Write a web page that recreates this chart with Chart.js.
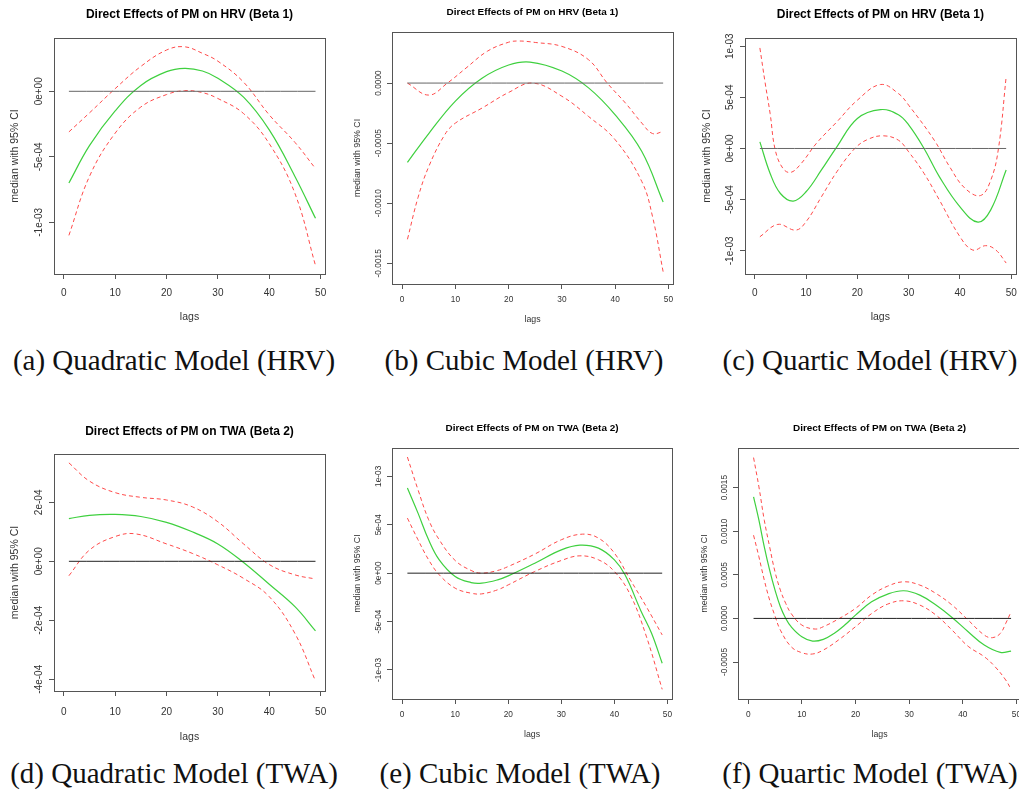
<!DOCTYPE html>
<html lang="en">
<head>
<meta charset="utf-8">
<title>Direct Effects of PM</title>
<script src="https://cdn.jsdelivr.net/npm/chart.js@4.4.1/dist/chart.umd.min.js"></script>
<style>
  body { margin: 0; width: 1019px; height: 793px; overflow: hidden; background: #fff; position: relative; }
  canvas { position: absolute; }
  .legenda {
    position: absolute; font-family: 'Liberation Serif', 'Times New Roman', serif;
    font-size: 29px; line-height: 1; color: #111; white-space: nowrap; transform: translateX(-50%);
  }
</style>
</head>
<body>
<div class="legenda" style="left:174px;top:346px">(a) Quadratic Model (HRV)</div>
<div class="legenda" style="left:524px;top:346px">(b) Cubic Model (HRV)</div>
<div class="legenda" style="left:870px;top:346px">(c) Quartic Model (HRV)</div>
<div class="legenda" style="left:174px;top:759px">(d) Quadratic Model (TWA)</div>
<div class="legenda" style="left:520px;top:759px">(e) Cubic Model (TWA)</div>
<div class="legenda" style="left:870px;top:759px">(f) Quartic Model (TWA)</div>

<script>
// ======== Dados ========

const ticksX = [0, 10, 20, 30, 40, 50];
const lagsZero = [1, 49];
const valoresZero = [0, 0];

// --- (a) Quadrático HRV ---
const ticksYA = [0, -5e-4, -1e-3];
const rotulosYA = ['0e+00', '-5e-04', '-1e-03'];
const lagsA = [1, 5, 10, 15, 20, 23.5, 27, 30, 35, 40, 45, 49];
const medianaA = [-7.0e-4, -4.15e-4, -1.5e-4, 4.5e-5, 1.5e-4, 1.75e-4, 1.55e-4, 1.0e-4, -4.5e-5, -2.95e-4, -6.5e-4, -9.7e-4];
const superiorA = [-3.1e-4, -1.65e-4, 2.0e-5, 1.9e-4, 3.15e-4, 3.4e-4, 2.9e-4, 2.3e-4, 7.0e-5, -1.8e-4, -3.9e-4, -5.9e-4];
const inferiorA = [-1.1e-3, -6.5e-4, -3.2e-4, -1.2e-4, -2.5e-5, 5e-6, -1e-5, -5.5e-5, -1.7e-4, -4.0e-4, -7.8e-4, -1.33e-3];

// --- (b) Cúbico HRV ---
const ticksYB = [0, -5e-4, -1e-3, -1.5e-3];
const rotulosYB = ['0.0000', '-0.0005', '-0.0010', '-0.0015'];
const lagsMedB = [1, 5, 10, 15, 20, 24, 30, 35, 40, 45, 49];
const medianaB = [-6.6e-4, -4.2e-4, -1.5e-4, 4e-5, 1.5e-4, 1.75e-4, 1.0e-4, -4e-5, -2.65e-4, -5.7e-4, -9.9e-4];
const lagsSupB = [1, 5, 8.5, 12, 16, 20, 22, 25, 30, 35, 38.5, 42, 45, 47, 49];
const superiorB = [0, -1.0e-4, 0, 1.25e-4, 2.65e-4, 3.4e-4, 3.5e-4, 3.38e-4, 3.05e-4, 1.94e-4, 0, -1.7e-4, -3.33e-4, -4.2e-4, -4.03e-4];
const lagsInfB = [1, 3, 5, 8, 10, 15, 20, 24.5, 30, 35, 40, 45, 47, 49];
const inferiorB = [-1.3e-3, -9.5e-4, -6.95e-4, -4.3e-4, -3.33e-4, -2.08e-4, -7.8e-5, 0, -1.1e-4, -2.78e-4, -4.72e-4, -8.2e-4, -1.11e-3, -1.57e-3];

// --- (c) Quártico HRV ---
const ticksYC = [1e-3, 5e-4, 0, -5e-4, -1e-3];
const rotulosYC = ['1e-03', '5e-04', '0e+00', '-5e-04', '-1e-03'];
const lagsMedC = [1, 3, 5, 7.5, 10, 13, 16, 20, 24.5, 28, 30, 33, 36, 40, 43.5, 46, 49];
const medianaC = [6.5e-5, -2.44e-4, -4.4e-4, -5.14e-4, -4.23e-4, -2.1e-4, 1.6e-5, 2.93e-4, 3.8e-4, 3.3e-4, 2.3e-4, 0, -2.77e-4, -5.7e-4, -7.2e-4, -6.0e-4, -2.1e-4];
const lagsSupC = [1, 2, 3, 4, 5.5, 7, 9, 12, 16, 20, 24.5, 28, 30, 35, 38, 41, 44, 46, 47.5, 49];
const superiorC = [9.83e-4, 6.5e-4, 3.4e-4, -1.6e-5, -1.95e-4, -2.34e-4, -1.5e-4, 4.9e-5, 2.6e-4, 4.72e-4, 6.25e-4, 5.37e-4, 4.23e-4, 8e-5, -1.8e-4, -3.9e-4, -4.6e-4, -3.1e-4, 0, 7.0e-4];
const lagsInfC = [1, 4.5, 8, 10, 13, 16, 19.5, 22, 25, 28, 30, 33, 36, 40, 42.5, 45, 47, 49];
const inferiorC = [-8.63e-4, -7.42e-4, -7.98e-4, -7.16e-4, -4.72e-4, -2.28e-4, 0, 8.8e-5, 1.24e-4, 8.1e-5, -3.3e-5, -2.44e-4, -5.05e-4, -8.63e-4, -9.93e-4, -9.5e-4, -9.93e-4, -1.12e-3];

// --- (d) Quadrático TWA ---
const ticksYD = [2e-4, 0, -2e-4, -4e-4];
const rotulosYD = ['2e-04', '0e+00', '-2e-04', '-4e-04'];
const lagsD = [1, 5, 10, 15, 20, 25, 30, 35, 40, 45, 49];
const medianaD = [1.45e-4, 1.56e-4, 1.59e-4, 1.52e-4, 1.32e-4, 1.0e-4, 5.9e-5, -4e-6, -7.8e-5, -1.54e-4, -2.36e-4];
const superiorD = [3.34e-4, 2.72e-4, 2.33e-4, 2.17e-4, 2.08e-4, 1.85e-4, 1.34e-4, 5.9e-5, -1.1e-5, -4.6e-5, -6.0e-5];
const lagsInfD = [1, 5, 10, 14, 20, 25, 30, 35, 40, 45, 49];
const inferiorD = [-4.9e-5, 3.8e-5, 8.4e-5, 9.3e-5, 5.9e-5, 2.7e-5, -1.2e-5, -5.8e-5, -1.2e-4, -2.45e-4, -4.06e-4];

// --- (e) Cúbico TWA ---
const ticksYE = [1e-3, 5e-4, 0, -5e-4, -1e-3];
const rotulosYE = ['1e-03', '5e-04', '0e+00', '-5e-04', '-1e-03'];
const lagsMedE = [1, 3, 5, 7, 10, 13, 15, 18, 20, 25, 30, 33.5, 37, 40, 42, 45, 47, 49];
const medianaE = [8.79e-4, 6.2e-4, 3.45e-4, 1.38e-4, -3.4e-5, -9.7e-5, -1.03e-4, -6.9e-5, -2.8e-5, 1.03e-4, 2.41e-4, 2.9e-4, 2.59e-4, 1.38e-4, -1.7e-5, -3.9e-4, -6.2e-4, -9.31e-4];
const lagsSupE = [1, 3, 5, 7, 10, 13, 15, 18, 20, 25, 30, 34, 37, 40, 43, 46, 49];
const superiorE = [1.2e-3, 8.62e-4, 5.52e-4, 3.45e-4, 1.31e-4, 2.8e-5, 0, 2.8e-5, 6.9e-5, 1.97e-4, 3.45e-4, 4.03e-4, 3.62e-4, 2.07e-4, -6.9e-5, -3.45e-4, -6.38e-4];
const lagsInfE = [1, 3, 5, 7, 10, 13, 15, 18, 20, 25, 30, 33.5, 37, 40, 43, 46, 49];
const inferiorE = [5.69e-4, 3.45e-4, 1.38e-4, -1.7e-5, -1.55e-4, -2.07e-4, -2.14e-4, -1.72e-4, -1.21e-4, 1.7e-5, 1.31e-4, 1.79e-4, 1.38e-4, 1.7e-5, -2.24e-4, -6.5e-4, -1.2e-3];

// --- (f) Quártico TWA ---
const ticksYF = [1.5e-3, 1e-3, 5e-4, 0, -5e-4];
const rotulosYF = ['0.0015', '0.0010', '0.0005', '0.0000', '-0.0005'];
const lagsMedF = [1, 2, 3, 4, 5, 6, 7, 8, 10, 12, 14, 16, 18, 20, 23, 26, 29, 32, 35, 38, 41, 44, 47, 49];
const medianaF = [1.393e-3, 1.126e-3, 8.2e-4, 5.53e-4, 3.24e-4, 1.34e-4, 0, -9.5e-5, -2.1e-4, -2.6e-4, -2.4e-4, -1.72e-4, -7.6e-5, 3.8e-5, 1.9e-4, 2.79e-4, 3.17e-4, 2.67e-4, 1.53e-4, 1.1e-5, -1.53e-4, -3.05e-4, -3.89e-4, -3.74e-4];
const lagsSupF = [1, 2, 3, 4, 5, 6, 7, 8, 10, 12.5, 14, 17, 20, 23, 26, 29, 32, 35, 38, 41, 44, 45.5, 47, 48, 49];
const superiorF = [1.844e-3, 1.508e-3, 1.126e-3, 8.2e-4, 5.34e-4, 3.24e-4, 1.72e-4, 5.7e-5, -7.6e-5, -1.22e-4, -9.5e-5, 0, 1.15e-4, 2.67e-4, 3.7e-4, 4.2e-4, 3.82e-4, 2.86e-4, 1.53e-4, -1.9e-5, -1.91e-4, -2.21e-4, -1.72e-4, -5.7e-5, 7.6e-5];
const lagsInfF = [1, 2, 3, 4, 5, 6, 8, 10, 12, 14, 17, 20, 23, 26, 29, 32, 35, 38, 41, 44, 46, 48, 49];
const inferiorF = [9.54e-4, 7.06e-4, 4.39e-4, 2.1e-4, 2.7e-5, -1.34e-4, -3.24e-4, -3.93e-4, -4.08e-4, -3.63e-4, -2.4e-4, -9.5e-5, 5.5e-5, 1.64e-4, 2.02e-4, 1.53e-4, 3.8e-5, -1.34e-4, -3.2e-4, -4.39e-4, -5.53e-4, -7.06e-4, -8.13e-4];

// ======== Layout de cada painel (posições em pixels da página) ========
const FONTE = "'Liberation Sans', Arial, sans-serif";

const paineis = [
  { titulo: 'Direct Effects of PM on HRV (Beta 1)', cx: 0, cy: 0, cw: 340, ch: 330,
    caixa: { l: 54, t: 38, r: 325, b: 274 }, tituloY: 15, yTituloX: 15, xTituloY: 317, offY: 15, offX: 19,
    base: 10, eixo: 10.5, corZero: '#666', yMin: -1.395e-3, yMax: 4.07e-4, ticksY: ticksYA, rotulosY: rotulosYA,
    mediana: [lagsA, medianaA], superior: [lagsA, superiorA], inferior: [lagsA, inferiorA] },
  { titulo: 'Direct Effects of PM on HRV (Beta 1)', cx: 340, cy: 0, cw: 340, ch: 330,
    caixa: { l: 392, t: 32, r: 673, b: 284 }, tituloY: 12.5, yTituloX: 358, xTituloY: 320, offY: 13.5, offX: 16,
    base: 8.3, eixo: 8.8, corZero: '#666', yMin: -1.672e-3, yMax: 4.25e-4, ticksY: ticksYB, rotulosY: rotulosYB,
    mediana: [lagsMedB, medianaB], superior: [lagsSupB, superiorB], inferior: [lagsInfB, inferiorB] },
  { titulo: 'Direct Effects of PM on HRV (Beta 1)', cx: 680, cy: 0, cw: 345, ch: 330,
    caixa: { l: 745, t: 38, r: 1017, b: 274 }, tituloY: 15, yTituloX: 707, xTituloY: 317, offY: 15, offX: 19,
    base: 10, eixo: 10.5, corZero: '#666', yMin: -1.227e-3, yMax: 1.08e-3, ticksY: ticksYC, rotulosY: rotulosYC,
    mediana: [lagsMedC, medianaC], superior: [lagsSupC, superiorC], inferior: [lagsInfC, inferiorC] },
  { titulo: 'Direct Effects of PM on TWA (Beta 2)', cx: 0, cy: 400, cw: 340, ch: 345,
    caixa: { l: 54, t: 454, r: 325, b: 691 }, tituloY: 432, yTituloX: 15, xTituloY: 737, offY: 15, offX: 21,
    base: 10, eixo: 10.5, corZero: '#222', yMin: -4.4e-4, yMax: 3.64e-4, ticksY: ticksYD, rotulosY: rotulosYD,
    mediana: [lagsD, medianaD], superior: [lagsD, superiorD], inferior: [lagsInfD, inferiorD] },
  { titulo: 'Direct Effects of PM on TWA (Beta 2)', cx: 340, cy: 400, cw: 340, ch: 345,
    caixa: { l: 392, t: 448, r: 672, b: 699 }, tituloY: 428.5, yTituloX: 358, xTituloY: 735, offY: 13.5, offX: 16,
    base: 8.3, eixo: 8.8, corZero: '#222', yMin: -1.3e-3, yMax: 1.293e-3, ticksY: ticksYE, rotulosY: rotulosYE,
    mediana: [lagsMedE, medianaE], superior: [lagsSupE, superiorE], inferior: [lagsInfE, inferiorE] },
  { titulo: 'Direct Effects of PM on TWA (Beta 2)', cx: 680, cy: 400, cw: 350, ch: 345,
    caixa: { l: 738, t: 448, r: 1021, b: 699 }, tituloY: 428.5, yTituloX: 705, xTituloY: 735, offY: 13.5, offX: 16,
    base: 8.3, eixo: 8.8, corZero: '#222', yMin: -9.24e-4, yMax: 1.954e-3, ticksY: ticksYF, rotulosY: rotulosYF,
    mediana: [lagsMedF, medianaF], superior: [lagsSupF, superiorF], inferior: [lagsInfF, inferiorF] },
];

// ======== Função auxiliar: mede a largura dos rótulos (para centrar os rótulos girados) ========
const ctxMedida = document.createElement('canvas').getContext('2d');
function maiorLargura(rotulos, tamanho) {
  ctxMedida.font = `${tamanho}px ${FONTE}`;
  return Math.max(...rotulos.map((r) => ctxMedida.measureText(r).width));
}

function pontos([lags, valores]) {
  return lags.map((x, i) => ({ x, y: valores[i] }));
}

// Desenha a moldura completa em volta da área do gráfico (estilo R)
const moldura = {
  id: 'moldura',
  afterDraw(chart) {
    const a = chart.chartArea;
    const ctx = chart.ctx;
    ctx.save();
    ctx.strokeStyle = '#555';
    ctx.lineWidth = 1;
    ctx.strokeRect(Math.round(a.left) + 0.5, Math.round(a.top) + 0.5,
      Math.round(a.right - a.left), Math.round(a.bottom - a.top));
    ctx.restore();
  },
};

// ======== Cria cada painel ========
function criarPainel(p) {
  const canvas = document.createElement('canvas');
  canvas.width = p.cw;
  canvas.height = p.ch;
  canvas.style.left = p.cx + 'px';
  canvas.style.top = p.cy + 'px';
  canvas.style.width = p.cw + 'px';
  canvas.style.height = p.ch + 'px';
  document.body.appendChild(canvas);

  const tamTitulo = p.base * 1.2;
  const lhTitulo = tamTitulo * 1.2;
  const lhEixo = p.eixo * 1.2;
  const lhTick = p.base * 1.2;
  const tl = 5;

  // Espaços calculados a partir da caixa do gráfico
  const padEsq = (p.yTituloX - p.cx) - lhEixo / 2;
  const larguraY = (p.caixa.l - p.cx) - padEsq;
  const padBaixo = (p.cy + p.ch) - p.xTituloY - lhEixo / 2;
  const alturaX = (p.cy + p.ch - padBaixo) - p.caixa.b;
  const padDir = (p.cx + p.cw) - p.caixa.r;
  const tituloTopo = (p.tituloY - p.cy) - lhTitulo / 2;
  const tituloBaixo = (p.caixa.t - p.cy) - tituloTopo - lhTitulo;
  const padTickY = p.offY - tl - maiorLargura(p.rotulosY, p.base) / 2;
  const padTickX = p.offX - tl - lhTick / 2;

  const tracejado = { borderColor: '#ff4a4a', borderWidth: 1, borderDash: [4, 3] };

  new Chart(canvas.getContext('2d'), {
    type: 'line',
    data: {
      datasets: [
        { data: pontos([lagsZero, valoresZero]), borderColor: p.corZero, borderWidth: 1 },
        { data: pontos(p.superior), ...tracejado },
        { data: pontos(p.inferior), ...tracejado },
        { data: pontos(p.mediana), borderColor: '#3fd03f', borderWidth: 1.2 },
      ],
    },
    options: {
      responsive: false,
      animation: false,
      devicePixelRatio: 1,
      events: [],
      elements: {
        point: { radius: 0 },
        line: { tension: 0.4, fill: false },
      },
      layout: {
        autoPadding: false,
        padding: { left: padEsq, right: padDir, top: 0, bottom: padBaixo },
      },
      plugins: {
        legend: { display: false },
        tooltip: { enabled: false },
        title: {
          display: true,
          text: p.titulo,
          fullSize: false,
          color: '#000',
          font: { family: FONTE, size: tamTitulo, weight: 'bold' },
          padding: { top: tituloTopo, bottom: tituloBaixo },
        },
      },
      scales: {
        x: {
          type: 'linear',
          min: -1.9,
          max: 50.85,
          afterBuildTicks: (s) => { s.ticks = ticksX.map((v) => ({ value: v })); },
          afterFit: (s) => { s.height = alturaX; },
          ticks: { color: '#333', font: { family: FONTE, size: p.base }, padding: padTickX, maxRotation: 0, callback: (v) => String(v) },
          grid: { drawOnChartArea: false, tickLength: tl, color: '#555' },
          border: { display: false },
          title: { display: true, text: 'lags', color: '#333', font: { family: FONTE, size: p.eixo }, padding: 0 },
        },
        y: {
          type: 'linear',
          min: p.yMin,
          max: p.yMax,
          afterBuildTicks: (s) => { s.ticks = p.ticksY.map((v) => ({ value: v })); },
          afterFit: (s) => { s.width = larguraY; },
          ticks: {
            color: '#333', font: { family: FONTE, size: p.base }, padding: padTickY,
            minRotation: 90, maxRotation: 90, crossAlign: 'center',
            callback: (v) => p.rotulosY[p.ticksY.indexOf(v)],
          },
          grid: { drawOnChartArea: false, tickLength: tl, color: '#555' },
          border: { display: false },
          title: { display: true, text: 'median with 95% CI', color: '#333', font: { family: FONTE, size: p.eixo }, padding: 0 },
        },
      },
    },
    plugins: [moldura],
  });
}

// ======== Inicia tudo ========
paineis.forEach((p) => criarPainel(p));
</script>
</body>
</html>
